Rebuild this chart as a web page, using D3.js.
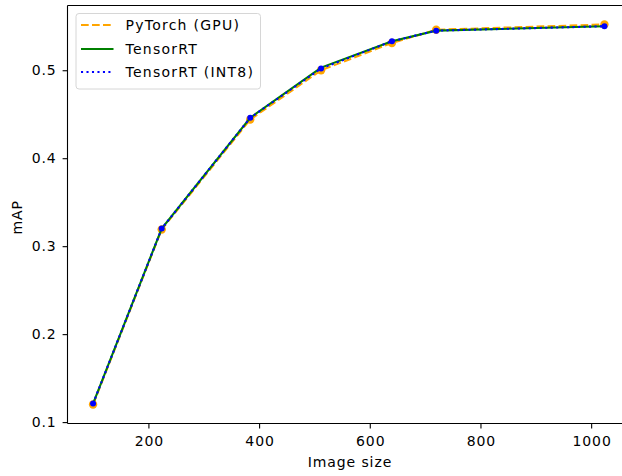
<!DOCTYPE html>
<html>
<head>
<meta charset="utf-8">
<script src="https://cdn.jsdelivr.net/npm/d3@7"></script>
<style>
  html, body { margin: 0; padding: 0; background: #fff; }
  svg { display: block; }
  text { font-family: "DejaVu Sans", sans-serif; fill: #000; }
</style>
</head>
<body>
<svg id="chart" width="622" height="476"></svg>
<script>
const imageSizes = [100, 224, 384, 512, 640, 720, 1024];
const pytorchGPU = [0.120, 0.319, 0.444, 0.500, 0.531, 0.546, 0.552];
const tensorRT   = [0.121, 0.320, 0.446, 0.503, 0.533, 0.545, 0.550];
const tensorRT8  = [0.121, 0.320, 0.446, 0.502, 0.533, 0.545, 0.550];
const xTicks = [200, 400, 600, 800, 1000];
const yTicks = [0.1, 0.2, 0.3, 0.4, 0.5];
const seriesNames = ["PyTorch (GPU)", "TensorRT", "TensorRT (INT8)"];

(function () {
const svg = d3.select("#chart");
const pLeft = 67.5, pTop = 5.5, pBottom = 423.5, pRight = 630;

const xmin = d3.min(imageSizes), xmax = d3.max(imageSizes);
const xpad = (xmax - xmin) * 0.05;
const allY = pytorchGPU.concat(tensorRT, tensorRT8);
const ymin = d3.min(allY), ymax = d3.max(allY);
const ypad = (ymax - ymin) * 0.05;

const x = d3.scaleLinear().domain([xmin - xpad, xmax + xpad]).range([pLeft, pRight]);
const y = d3.scaleLinear().domain([ymin - ypad, ymax + ypad]).range([pBottom, pTop]);

const fs = 14, ls = 0.9, lsLeg = 1.25;

// axes
const xAxis = d3.axisBottom(x).tickValues(xTicks).tickFormat(d3.format("d")).tickSize(4.9).tickPadding(7.5).tickSizeOuter(0);
const yAxis = d3.axisLeft(y).tickValues(yTicks).tickFormat(d3.format(".1f")).tickSize(4.9).tickPadding(6).tickSizeOuter(0);

const gx = svg.append("g").attr("transform", `translate(0,${pBottom})`).call(xAxis);
const gy = svg.append("g").attr("transform", `translate(${pLeft},0)`).call(yAxis);
[gx, gy].forEach(g => {
  g.select(".domain").remove();
  g.selectAll(".tick line").attr("stroke", "#000").attr("stroke-width", 1.1);
  g.selectAll(".tick text").style("font-size", fs + "px").style("font-family", "DejaVu Sans")
    .style("letter-spacing", ls + "px").attr("fill", "#000");
});
gx.selectAll(".tick text").attr("dx", (ls / 2) + "px");

// lines
const mkLine = vals => d3.line().x((d, i) => x(imageSizes[i])).y(d => y(d))(vals);
const plot = svg.append("g");

plot.append("path").attr("d", mkLine(pytorchGPU)).attr("fill", "none")
  .attr("stroke", "orange").attr("stroke-width", 2.08).attr("stroke-dasharray", "7.7,3.3");
plot.selectAll("circle.pt").data(pytorchGPU).enter().append("circle").attr("class", "pt")
  .attr("cx", (d, i) => x(imageSizes[i])).attr("cy", d => y(d)).attr("r", 4.2).attr("fill", "orange");

plot.append("path").attr("d", mkLine(tensorRT)).attr("fill", "none")
  .attr("stroke", "green").attr("stroke-width", 2.08);

plot.append("path").attr("d", mkLine(tensorRT8)).attr("fill", "none")
  .attr("stroke", "blue").attr("stroke-width", 2.08).attr("stroke-dasharray", "2.08,3.4");
plot.selectAll("circle.i8").data(tensorRT8).enter().append("circle").attr("class", "i8")
  .attr("cx", (d, i) => x(imageSizes[i])).attr("cy", d => y(d)).attr("r", 3).attr("fill", "blue");

// spines
const sp = svg.append("g").attr("stroke", "#000").attr("stroke-width", 1.1).attr("fill", "none");
sp.append("line").attr("x1", pLeft).attr("x2", pLeft).attr("y1", pTop).attr("y2", pBottom);
sp.append("line").attr("x1", pLeft).attr("x2", pRight).attr("y1", pBottom).attr("y2", pBottom);
sp.append("line").attr("x1", pLeft).attr("x2", pRight).attr("y1", pTop).attr("y2", pTop);
sp.append("line").attr("x1", pRight).attr("x2", pRight).attr("y1", pTop).attr("y2", pBottom);

// axis labels
svg.append("text").attr("x", 349.5 + ls / 2).attr("y", 467).attr("text-anchor", "middle")
  .style("font-size", fs + "px").style("letter-spacing", ls + "px").text("Image size");
svg.append("text").attr("transform", `translate(22,${217 + ls / 2}) rotate(-90)`)
  .attr("text-anchor", "middle").style("font-size", fs + "px").style("letter-spacing", ls + "px").text("mAP");

// legend
const lg = svg.append("g");
lg.append("rect").attr("x", 76).attr("y", 13.5).attr("width", 184.5).attr("height", 75.5)
  .attr("rx", 3).attr("fill", "#fff").attr("fill-opacity", 0.8).attr("stroke", "#d6d6d6").attr("stroke-width", 1);
const styles = [
  { color: "orange", dash: "7.7,3.3" },
  { color: "green", dash: null },
  { color: "blue", dash: "2.08,3.4" }
];
const rowY = [25, 49, 72];
seriesNames.forEach((name, i) => {
  const l = lg.append("line").attr("x1", 81).attr("x2", 113.5).attr("y1", rowY[i]).attr("y2", rowY[i])
    .attr("stroke", styles[i].color).attr("stroke-width", 2.08);
  if (styles[i].dash) l.attr("stroke-dasharray", styles[i].dash);
  lg.append("text").attr("x", 125.5).attr("y", rowY[i]).attr("dy", "0.36em")
    .style("font-size", fs + "px").style("letter-spacing", lsLeg + "px").text(name);
});
})();
</script>
</body>
</html>
